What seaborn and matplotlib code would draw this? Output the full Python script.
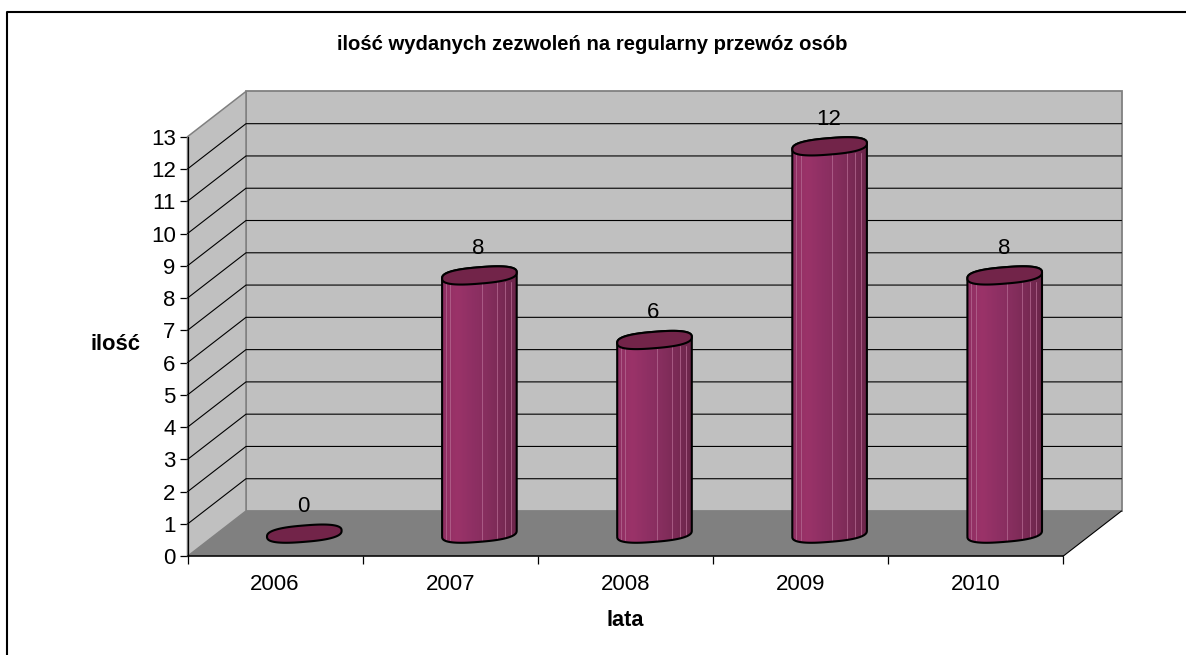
import numpy as np
import pandas as pd
import matplotlib
matplotlib.use("Agg")
import matplotlib.pyplot as plt
import seaborn as sns
from matplotlib.patches import PathPatch, Polygon
from matplotlib.path import Path
from matplotlib.lines import Line2D
from matplotlib.colors import LinearSegmentedColormap

years = ["2006", "2007", "2008", "2009", "2010"]
permits = [0, 8, 6, 12, 8]
y_ticks = list(range(0, 14))
title_text = "ilość wydanych zezwoleń na regularny przewóz osób"
x_title = "lata"
y_title = "ilość"

W, H = 1186, 655
sns.set_theme(style="white")
plt.rcParams["font.family"] = ["Liberation Sans", "DejaVu Sans"]
plt.rcParams["text.color"] = "black"
plt.rcParams["xtick.color"] = "black"
plt.rcParams["ytick.color"] = "black"

fig = plt.figure(figsize=(W / 100, H / 100), dpi=100, facecolor="white")
L, R, T, B = 187.5, 1063.0, 136.7, 556.3
ax = fig.add_axes([L / W, 1 - B / H, (R - L) / W, (B - T) / H])
df = pd.DataFrame({"rok": years, "n": permits})
sns.barplot(data=df, x="rok", y="n", color="#8e2f62", width=0.426, ax=ax,
            saturation=1, zorder=4, clip_on=False)
ax.set_xlim(-0.5, 4.5)
ax.set_ylim(0, 13)
ax.patch.set_alpha(0)

px_y = (B - T) / 13
depth_x = 58.5 / ((R - L) / 5)
depth_y = 45.3 / px_y
x0, x1 = -0.5, 4.5
ymax = 13

# walls and floor
wall = "#c0c0c0"
edge = "#808080"
ax.add_patch(Polygon([(x0 + depth_x, depth_y), (x1 + depth_x, depth_y),
                      (x1 + depth_x, ymax + depth_y), (x0 + depth_x, ymax + depth_y)],
                     fc=wall, ec=edge, lw=1.3, zorder=0.5, clip_on=False))
ax.add_patch(Polygon([(x0, 0), (x0 + depth_x, depth_y), (x0 + depth_x, ymax + depth_y), (x0, ymax)],
                     fc=wall, ec=edge, lw=1.1, zorder=0.6, clip_on=False))
ax.add_patch(Polygon([(x0, 0), (x1, 0), (x1 + depth_x, depth_y), (x0 + depth_x, depth_y)],
                     fc="#808080", ec="none", zorder=0.7, clip_on=False))
ax.add_line(Line2D([x1, x1 + depth_x], [0, depth_y], color="black", lw=0.8, zorder=0.8, clip_on=False))
for v in y_ticks[1:-1]:
    ax.add_line(Line2D([x0, x0 + depth_x, x1 + depth_x], [v, v + depth_y, v + depth_y],
                       color="black", lw=0.8, zorder=1, clip_on=False))

# cylinders built from the seaborn bars
cmap = LinearSegmentedColormap.from_list(
    "cyl", ["#8f2f62", "#9b3369", "#8f3064", "#862e5e", "#7a2a55", "#6b264a"])
stripe_pos = [0.05, 0.11, 0.53, 0.73, 0.84, 0.92]


def outline(cx, cy, half, n=90):
    """Skewed flat ellipse, in data units, for a cylinder section."""
    t = np.linspace(0, 2 * np.pi, n, endpoint=False)
    c, s = np.cos(t), np.sin(t)
    e = 0.78
    u = np.sign(c) * np.abs(c) ** e
    v = np.sign(s) * np.abs(s) ** e
    x = cx + half * u
    y = cy + (8.2 / px_y) * v + (3.0 / px_y) * u
    return x, y


base_y = depth_y * 0.5
shift = depth_x * 0.5
bars = [p for p in ax.patches if p.__class__.__name__ == "Rectangle"]
for bar, val in zip(bars, permits):
    bar.set_x(bar.get_x() + shift)
    bar.set_y(base_y)
    bar.set_edgecolor("none")
    half = bar.get_width() / 2
    cx = bar.get_x() + half
    top = base_y + bar.get_height()
    ex, ey = outline(cx, top, half)
    if val > 0:
        bx, by = outline(cx, base_y, half)
        # silhouette: lower half of base, up the sides, upper half of top
        nb = len(bx)
        idx = np.arange(nb // 2, nb)
        tidx = np.arange(0, nb // 2 + 1)
        px = np.r_[bx[idx], bx[0], ex[tidx]]
        py = np.r_[by[idx], by[0], ey[tidx]]
        body = PathPatch(Path(np.c_[np.r_[px, px[0]], np.r_[py, py[0]]]),
                         fc="none", ec="black", lw=1.5, zorder=6, clip_on=False)
        grad = np.linspace(0, 1, 128).reshape(1, -1)
        im = ax.imshow(grad, cmap=cmap, aspect="auto", zorder=5,
                       extent=[cx - half, cx + half, base_y - 1, top + 1])
        fill = PathPatch(body.get_path(), fc="none", ec="none", transform=ax.transData)
        ax.add_patch(fill)
        im.set_clip_path(fill)
        for sp in stripe_pos:
            ax.add_line(Line2D([cx - half + sp * 2 * half] * 2, [base_y - 0.2, top - 0.2],
                               color="#b56a92", lw=0.7, alpha=0.75, zorder=5.5, clip_path=fill))
        ax.add_patch(body)
    ax.add_patch(Polygon(np.c_[ex, ey], fc="#722449", ec="black", lw=1.5, zorder=7, clip_on=False))
    ax.annotate(str(val), xy=(cx, top), xycoords="data", xytext=(-1, 27), textcoords="offset pixels",
                ha="center", va="center", fontsize=16, color="black", zorder=8, annotation_clip=False)

ax.set_xlim(-0.5, 4.5)
ax.set_ylim(0, 13)

# axes
sns.despine(ax=ax, top=True, right=True)
ax.spines["left"].set_linewidth(0.9)
ax.spines["left"].set_color("black")
ax.spines["bottom"].set_linewidth(1.1)
ax.spines["bottom"].set_color("black")
ax.spines["left"].set_zorder(2)
ax.set_yticks(y_ticks)
ax.set_yticklabels([str(v) for v in y_ticks], fontsize=16, color="black")
edges = np.arange(-0.5, 5.0, 1.0)
ax.set_xticks(edges)
ax.set_xticklabels([""] * len(edges))
ax.tick_params(axis="x", which="major", length=6, width=0.9, color="black", bottom=True)
ax.tick_params(axis="y", which="major", length=5.5, width=0.9, color="black", left=True, pad=3)
ax.set_xlabel("")
ax.set_ylabel("")
for i, y in enumerate(years):
    ax.annotate(y, xy=(i, 0), xycoords="data", xytext=(0, -28), textcoords="offset pixels",
                ha="center", va="center", fontsize=16, color="black", annotation_clip=False)

fig.text(592 / W, 1 - 45 / H, title_text, ha="center", va="center", fontsize=14.6, fontweight="bold")
fig.text(625 / W, 1 - 620 / H, x_title, ha="center", va="center", fontsize=15.6, fontweight="bold")
fig.text(115 / W, 1 - 344 / H, y_title, ha="center", va="center", fontsize=15.8, fontweight="bold")

# chart frame (left and top edges only, as visible in the picture)
fig.add_artist(Line2D([7 / W, 7 / W, 1], [0, 1 - 12 / H, 1 - 12 / H],
                      color="black", lw=1.5, transform=fig.transFigure))

fig.savefig("out.png", dpi=100, facecolor="white")
